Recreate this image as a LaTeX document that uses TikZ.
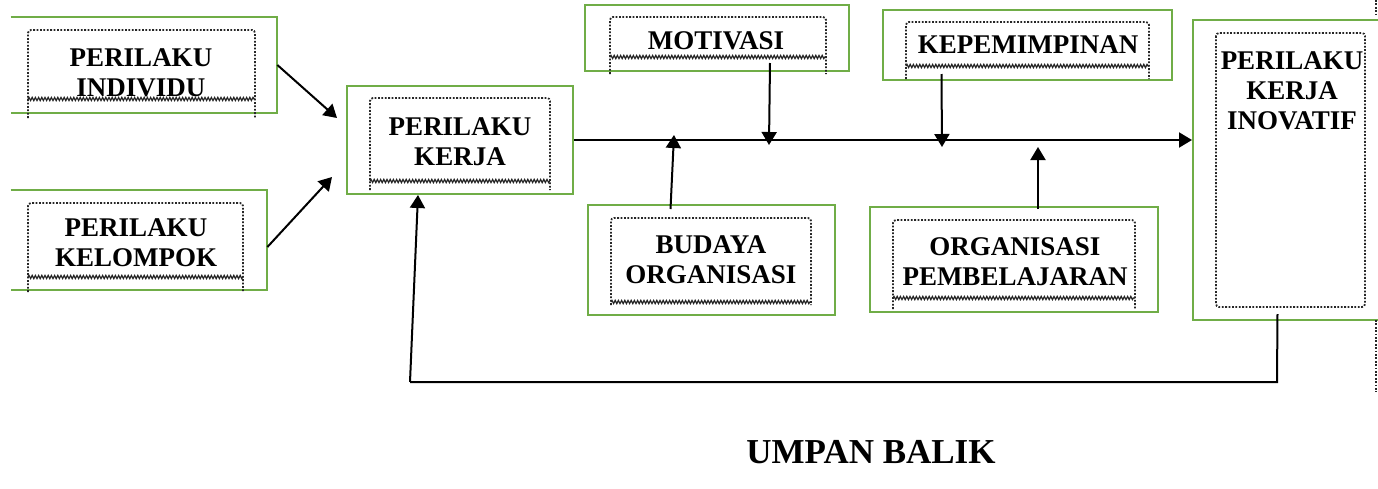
\documentclass[tikz,border=0pt]{standalone}
\usepackage{fontspec}
\setmainfont{Liberation Serif}
\usetikzlibrary{arrows.meta,calc,fit,decorations.pathmorphing}
\definecolor{gr}{RGB}{112,173,71}
\begin{document}
\begin{tikzpicture}[x=0.5pt,y=-0.5pt,
  gbox/.style={draw=gr,line width=1pt,inner sep=0pt},
  gline/.style={draw=gr,line width=1pt},
  dotbox/.style={draw=black!85,line width=0.9pt,dash pattern=on 0.9pt off 0.8pt,rounded corners=1.5pt},
  wavy/.style={draw=black!85,line width=0.6pt,decorate,decoration={snake,segment length=1.6pt,amplitude=0.8pt}},
  lbl/.style={font=\fontsize{13.5}{15}\selectfont\bfseries,align=center,inner sep=0pt},
  arr/.style={draw=black,line width=1pt,-{Triangle[width=7.5pt,length=6.5pt]}},
  ln/.style={draw=black,line width=1pt}]
\useasboundingbox (0,0) rectangle (1378,488);
\clip (0,0) rectangle (1378,488);

% ---- PERILAKU INDIVIDU (left side open)
\node[fit={(11,17)(277,113)},inner sep=0pt] (indiv) {};
\draw[gline] (indiv.north west) -- (indiv.north east) -- (indiv.south east) -- (indiv.south west);
\draw[dotbox] (28,118) -- (28,30) -- (255,30) -- (255,118);
\draw[wavy] (28,99) -- (255,99);
\node[lbl] (indivT) at (141,73) {PERILAKU\\INDIVIDU};

% ---- PERILAKU KELOMPOK (left side open)
\node[fit={(11,190)(267,290)},inner sep=0pt] (kelompok) {};
\draw[gline] (kelompok.north west) -- (kelompok.north east) -- (kelompok.south east) -- (kelompok.south west);
\draw[dotbox] (28,292) -- (28,203) -- (243,203) -- (243,292);
\draw[wavy] (28,277) -- (243,277);
\node[lbl] (kelompokT) at (136,243) {PERILAKU\\KELOMPOK};

% ---- PERILAKU KERJA
\node[gbox,fit={(347,86)(573,194)}] (kerja) {};
\draw[dotbox] (370,190) -- (370,98) -- (550,98) -- (550,190);
\draw[wavy] (370,181) -- (550,181);
\node[lbl] (kerjaT) at (460,142) {PERILAKU\\KERJA};

% ---- MOTIVASI
\node[gbox,fit={(585,5)(849,71)}] (motivasi) {};
\draw[dotbox] (610,74) -- (610,17) -- (826,17) -- (826,74);
\draw[wavy] (610,57) -- (826,57);
\node[lbl] (motivasiT) at (716,41) {MOTIVASI};

% ---- BUDAYA ORGANISASI
\node[gbox,fit={(588,205)(835,315)}] (budaya) {};
\draw[dotbox] (611,305) -- (611,218) -- (811,218) -- (811,305);
\draw[wavy] (611,302) -- (811,302);
\node[lbl] (budayaT) at (711,260) {BUDAYA\\ORGANISASI};

% ---- KEPEMIMPINAN
\node[gbox,fit={(883,10)(1172,80)}] (kepem) {};
\draw[dotbox] (906,79) -- (906,22) -- (1149,22) -- (1149,79);
\draw[wavy] (906,66) -- (1149,66);
\node[lbl] (kepemT) at (1028,45) {KEPEMIMPINAN};

% ---- ORGANISASI PEMBELAJARAN
\node[gbox,fit={(870,207)(1158,312)}] (orgpem) {};
\draw[dotbox] (893,309) -- (893,220) -- (1135,220) -- (1135,309);
\draw[wavy] (893,298) -- (1135,298);
\node[lbl] (orgpemT) at (1015,262) {ORGANISASI\\PEMBELAJARAN};

% ---- PERILAKU KERJA INOVATIF
\node[gbox,fit={(1193,20)(1390,320)}] (inov) {};
\draw[dotbox] (1216,33) rectangle (1365,307);
\node[lbl] (inovT) at (1292,91) {PERILAKU\\KERJA\\INOVATIF};

% ---- partial dotted edge at far right
\draw[dotbox] (1376,0) -- (1376,15);
\draw[dotbox] (1376,320) -- (1376,392);

% ---- tips on the main line
\coordinate (tMot) at (769,145);
\coordinate (tBud) at (674,135);
\coordinate (tKep) at (942,147);
\coordinate (tOrg) at (1038,147);
\coordinate (fbR) at (1277,382);
\coordinate (fbL) at (410,382);

% ---- connectors
\draw[arr] (indiv.east) -- ($(kerja.west)+(-9,-22)$);
\draw[arr] ($(kelompok.east)+(0,7)$) -- ($(kerja.west)+(-14,37)$);
\draw[arr] (kerja.east) -- (kerja.east -| inov.west);
\draw[arr] ($(motivasi.south)+(53,-9)$) -- (tMot);
\draw[arr] ($(budaya.north)+(-41,5)$) -- (tBud);
\draw[arr] ($(kepem.south)+(-86,-7)$) -- (tKep);
\draw[arr] ($(orgpem.north)+(24,3)$) -- (tOrg);
\draw[ln] ($(inov.south)+(-14,-7)$) -- (fbR) -- (fbL);
\draw[arr] (fbL) -- ($(kerja.south)+(-42,0)$);

% ---- caption
\node[font=\fontsize{17.5}{20}\selectfont\bfseries,inner sep=0pt] (umpan) at (871,452) {UMPAN BALIK};
\end{tikzpicture}
\end{document}
